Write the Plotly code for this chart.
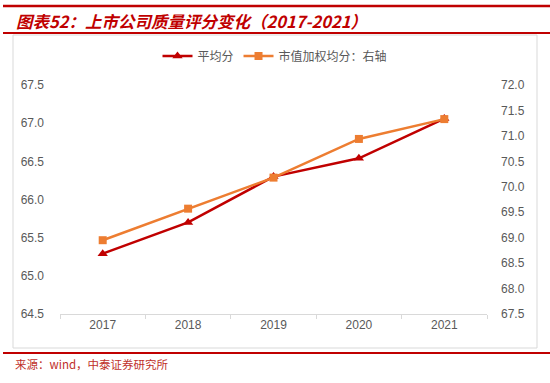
import plotly.graph_objects as go

years = ["2017", "2018", "2019", "2020", "2021"]
avg_score = [65.29, 65.70, 66.30, 66.54, 67.06]
cap_weighted = [68.95, 69.57, 70.18, 70.94, 71.33]
left_ticks = [64.5, 65.0, 65.5, 66.0, 66.5, 67.0, 67.5]
right_ticks = [67.5, 68.0, 68.5, 69.0, 69.5, 70.0, 70.5, 71.0, 71.5, 72.0]

W, H = 550, 383
def px(x):
    return x / W
def py(y):
    return 1 - y / H

RED = "#C00000"
ORANGE = "#ED7D31"
GRAY = "#595959"

fig = go.Figure()
fig.add_trace(go.Scatter(
    x=years, y=avg_score, name="平均分", mode="lines+markers",
    line=dict(color=RED, width=2.5),
    marker=dict(symbol="triangle-up", size=9, color=RED),
    yaxis="y",
))
fig.add_trace(go.Scatter(
    x=years, y=cap_weighted, name="市值加权均分：右轴", mode="lines+markers",
    line=dict(color=ORANGE, width=2.5),
    marker=dict(symbol="square", size=8, color=ORANGE),
    yaxis="y2",
))

shapes = []
# red rules
for yy, w in [(6, 2.5), (33, 2), (353, 2)]:
    shapes.append(dict(type="line", xref="paper", yref="paper",
                       x0=px(3), x1=1, y0=py(yy), y1=py(yy),
                       line=dict(color=RED, width=w)))
# chart box
shapes.append(dict(type="rect", xref="paper", yref="paper",
                   x0=px(13), x1=px(537), y0=py(348), y1=py(35),
                   line=dict(color="#D9D9D9", width=1), layer="below"))

annotations = [
    dict(text="图表52：上市公司质量评分变化（2017-2021）", xref="paper", yref="paper",
         x=px(14), y=py(21), xanchor="left", yanchor="middle", showarrow=False,
         font=dict(family="Noto Sans CJK SC", size=16.5, color=RED, weight="bold", style="italic")),
    dict(text="来源：wind，中泰证券研究所", xref="paper", yref="paper",
         x=px(13), y=py(364), xanchor="left", yanchor="middle", showarrow=False,
         font=dict(family="Noto Sans CJK SC", size=11.5, color="#C0302A")),
]

fig.update_layout(
    width=W, height=H,
    margin=dict(l=0, r=0, t=0, b=0, pad=0, autoexpand=False),
    paper_bgcolor="white", plot_bgcolor="white",
    showlegend=True,
    legend=dict(orientation="h", x=0.5, xanchor="center", y=py(56), yanchor="middle",
                font=dict(family="Noto Sans CJK SC", size=12, color=GRAY),
                itemwidth=30, bgcolor="rgba(0,0,0,0)"),
    xaxis=dict(domain=[px(60), px(487)], type="category", range=[-0.5, 4.5],
               tickson="boundaries", ticks="outside", ticklen=4, tickcolor="#D9D9D9",
               showline=True, linecolor="#D9D9D9", linewidth=1, showgrid=False,
               tickfont=dict(family="Liberation Sans", size=12, color=GRAY),
               anchor="y", automargin=False),
    yaxis=dict(domain=[py(314), py(85)], range=[64.5, 67.5], tickvals=left_ticks,
               ticktext=[f"{v:.1f}" for v in left_ticks], showgrid=False,
               zeroline=False, showline=False, ticklabelstandoff=15, automargin=False,
               tickfont=dict(family="Liberation Sans", size=12, color=GRAY)),
    yaxis2=dict(domain=[py(314), py(85)], range=[67.5, 72.0], tickvals=right_ticks,
                ticktext=[f"{v:.1f}" for v in right_ticks], overlaying="y", side="right",
                anchor="x", showgrid=False, zeroline=False, showline=False,
                ticklabelstandoff=13, automargin=False,
                tickfont=dict(family="Liberation Sans", size=12, color=GRAY)),
    shapes=shapes, annotations=annotations,
)

fig.write_html(
    "out.html",
    config={"displayModeBar": False},
    post_script=("document.documentElement.style.margin='0';"
                 "document.documentElement.style.overflow='hidden';"
                 "document.body.style.margin='0';document.body.style.padding='0';"
                 "document.body.style.overflow='hidden';"),
)
